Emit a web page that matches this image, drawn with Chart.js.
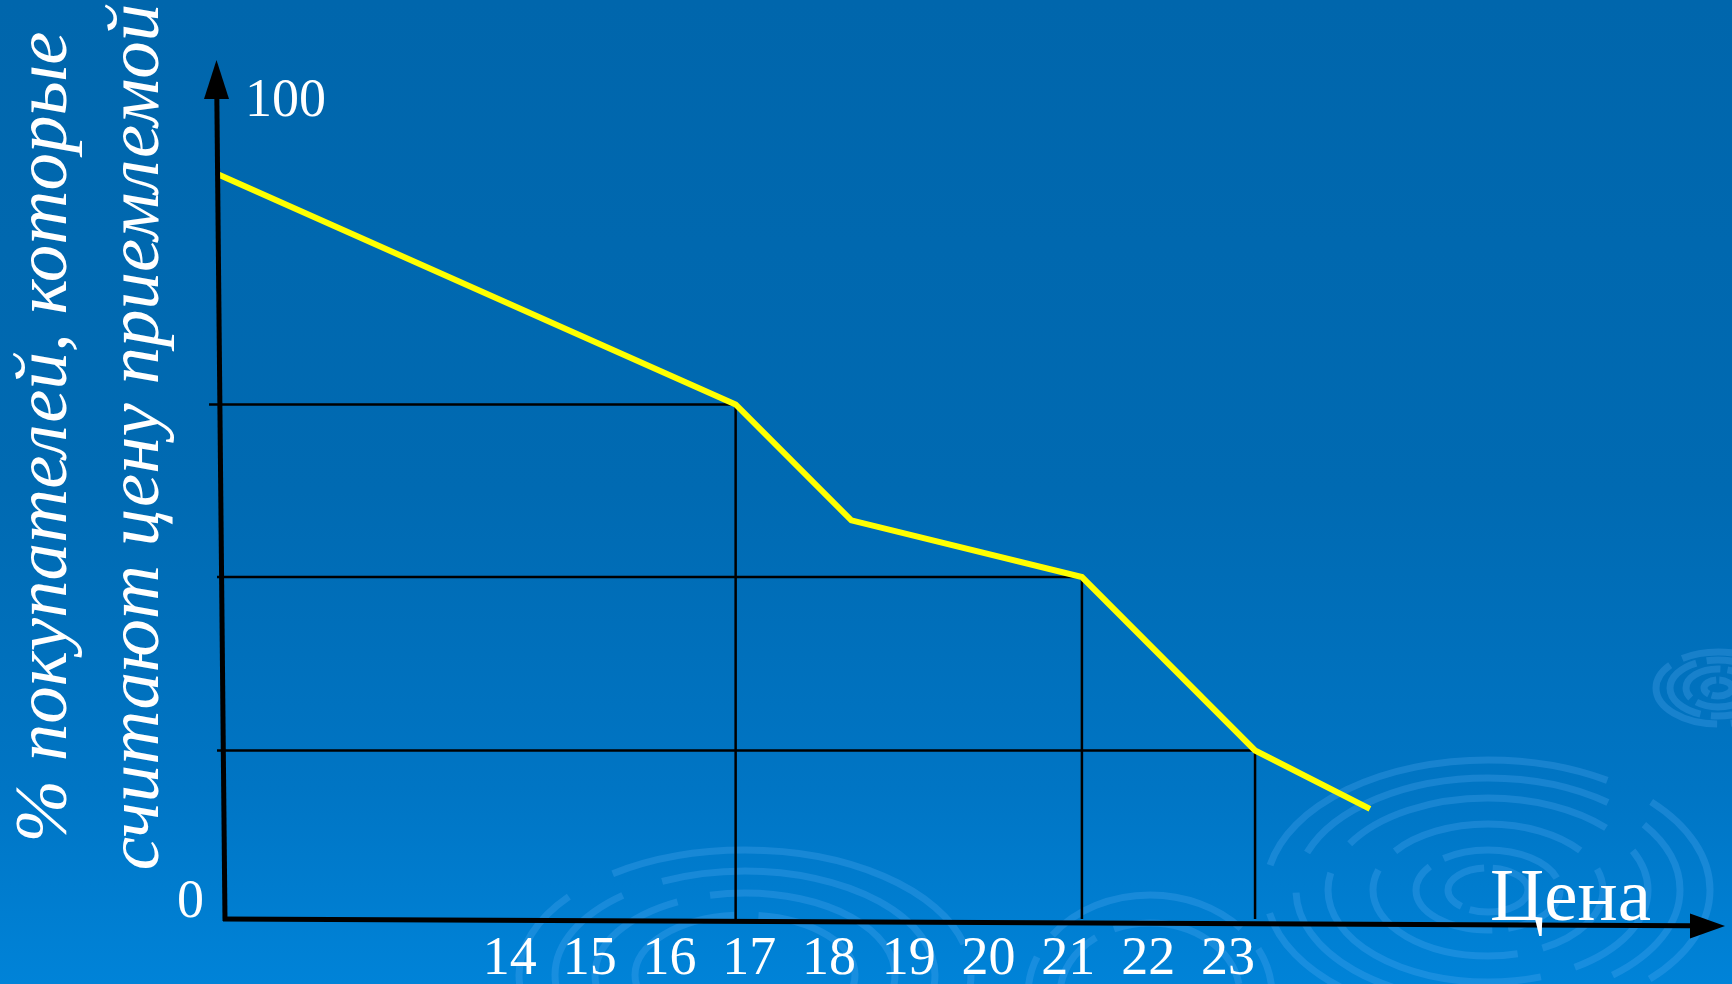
<!DOCTYPE html>
<html>
<head>
<meta charset="utf-8">
<script src="https://cdn.jsdelivr.net/npm/chart.js@4.4.0/dist/chart.umd.min.js"></script>
<style>
html, body { margin: 0; padding: 0; }
body {
	width: 1732px; height: 984px; overflow: hidden;
	background: linear-gradient(to bottom, #0066ac 0%, #006ab2 50%, #0075c4 80%, #0083d8 100%);
}
canvas { display: block; }
</style>
</head>
<body>
<canvas id="chart" width="1732" height="984"></canvas>
<script>
var priceX = [10.34, 16.83, 18.28, 21.17, 23.34, 24.78];
var shareY = [90.6, 62.6, 48.5, 41.6, 20.5, 13.4];
var priceTicks = [14, 15, 16, 17, 18, 19, 20, 21, 22, 23];
var guidePoints = [1, 3, 4];
var guideStart = [10.23, 10.33, 10.33];
var yTitle = ["% покупателей, которые", "считают цену приемлемой"];
var xTitle = "Цена";
var yZeroLabel = "0";
var yTopLabel = "100";
var xMin = 10.43, xMax = 29.23, yMax = 104.5;

var serif = '"Liberation Serif", "Times New Roman", serif';

// background ripples (decoration of the slide)
var ripples = [
	{cx: 1488, cy: 890, rings: [[40, 22], [72, 40], [115, 66], [160, 92], [192, 112], [222, 130]]},
	{cx: 1718, cy: 688, rings: [[14, 8], [32, 19], [48, 28], [62, 36]]},
	{cx: 745, cy: 975, rings: [[110, 60], [150, 82], [190, 104], [226, 125]]},
	{cx: 1150, cy: 995, rings: [[90, 72], [122, 100]]}
];

var backgroundPlugin = {
	id: "ripples",
	beforeDraw: function(chart) {
		var ctx = chart.ctx;
		ctx.save();
		ctx.strokeStyle = "rgba(110, 185, 255, 0.22)";
		ctx.lineWidth = 7;
		for(var i = 0;i < ripples.length;++i) {
			var r = ripples[i];
			for(var j = 0;j < r.rings.length;++j) {
				ctx.setLineDash([r.rings[j][0] * 1.7, r.rings[j][0] * 0.22]);
				ctx.lineDashOffset = j * 53;
				ctx.beginPath();
				ctx.ellipse(r.cx, r.cy, r.rings[j][0], r.rings[j][1], 0, 0, Math.PI * 2);
				ctx.stroke();
			}
		}
		ctx.restore();
	}
};

var axesPlugin = {
	id: "axesAndText",
	afterDatasetsDraw: function(chart) {
		var ctx = chart.ctx;
		var xs = chart.scales.x, ys = chart.scales.y;
		var area = chart.chartArea;
		var ox = xs.getPixelForValue(xMin), oy = ys.getPixelForValue(0);
		var topY = area.top, rightX = area.right;
		var lean = -8.5, drop = 7;
		ctx.save();
		ctx.strokeStyle = "#000";
		ctx.fillStyle = "#000";
		ctx.lineWidth = 5;
		ctx.lineCap = "butt";
		// y axis
		ctx.beginPath();
		ctx.moveTo(ox, oy + 2);
		ctx.lineTo(ox + lean * 0.96, topY + 39);
		ctx.stroke();
		ctx.beginPath();
		ctx.moveTo(ox + lean, topY);
		ctx.lineTo(ox + lean - 12.5, topY + 39);
		ctx.lineTo(ox + lean + 12.5, topY + 39);
		ctx.closePath();
		ctx.fill();
		// x axis
		ctx.beginPath();
		ctx.moveTo(ox - 2, oy);
		ctx.lineTo(rightX - 35, oy + drop * 0.98);
		ctx.stroke();
		ctx.beginPath();
		ctx.moveTo(rightX, oy + drop);
		ctx.lineTo(rightX - 35, oy + drop - 12.5);
		ctx.lineTo(rightX - 35, oy + drop + 12.5);
		ctx.closePath();
		ctx.fill();

		ctx.fillStyle = "#fff";
		ctx.textBaseline = "alphabetic";
		ctx.font = "54px " + serif;
		ctx.textAlign = "left";
		ctx.fillText(yTopLabel, ox + 20, ys.getPixelForValue(100) + 19);
		ctx.textAlign = "right";
		ctx.fillText(yZeroLabel, ox - 21, oy - 2);
		ctx.font = "75px " + serif;
		ctx.fillText(xTitle, rightX - 74, oy + 1);

		ctx.translate(0, 437);
		ctx.rotate(-Math.PI / 2);
		ctx.font = "italic 75px " + serif;
		ctx.textAlign = "center";
		ctx.fillText(yTitle[0], 0, 66);
		ctx.fillText(yTitle[1], 0, 158);
		ctx.restore();
	}
};

var datasets = [{
	data: priceX.map(function(x, i) { return {x: x, y: shareY[i]}; }),
	borderColor: "#ffff00",
	borderWidth: 6,
	borderJoinStyle: "miter",
	pointRadius: 0,
	tension: 0,
	clip: false,
	order: 0
}];
for(var k = 0;k < guidePoints.length;++k) {
	var p = guidePoints[k];
	datasets.push({
		data: [{x: guideStart[k], y: shareY[p]}, {x: priceX[p], y: shareY[p]}, {x: priceX[p], y: 0}],
		borderColor: "#000",
		borderWidth: 2.5,
		pointRadius: 0,
		tension: 0,
		clip: false,
		order: 1
	});
}

var config = {
	type: "line",
	data: {datasets: datasets},
	plugins: [backgroundPlugin, axesPlugin],
	options: {
		responsive: false,
		animation: false,
		devicePixelRatio: 1,
		layout: {padding: {left: 225, top: 60, right: 7, bottom: 0}},
		plugins: {legend: {display: false}, tooltip: {enabled: false}},
		scales: {
			x: {
				type: "linear",
				min: xMin,
				max: xMax,
				grid: {display: false, drawTicks: false},
				border: {display: false},
				afterBuildTicks: function(axis) {
					axis.ticks = priceTicks.map(function(v) { return {value: v}; });
				},
				afterFit: function(axis) {
					axis.height = 65;
				},
				ticks: {
					color: "#fff",
					padding: 15,
					maxRotation: 0,
					font: {family: serif, size: 54, lineHeight: 0.96}
				}
			},
			y: {
				type: "linear",
				display: false,
				min: 0,
				max: yMax
			}
		}
	}
};

new Chart(document.getElementById("chart"), config);
</script>
</body>
</html>
